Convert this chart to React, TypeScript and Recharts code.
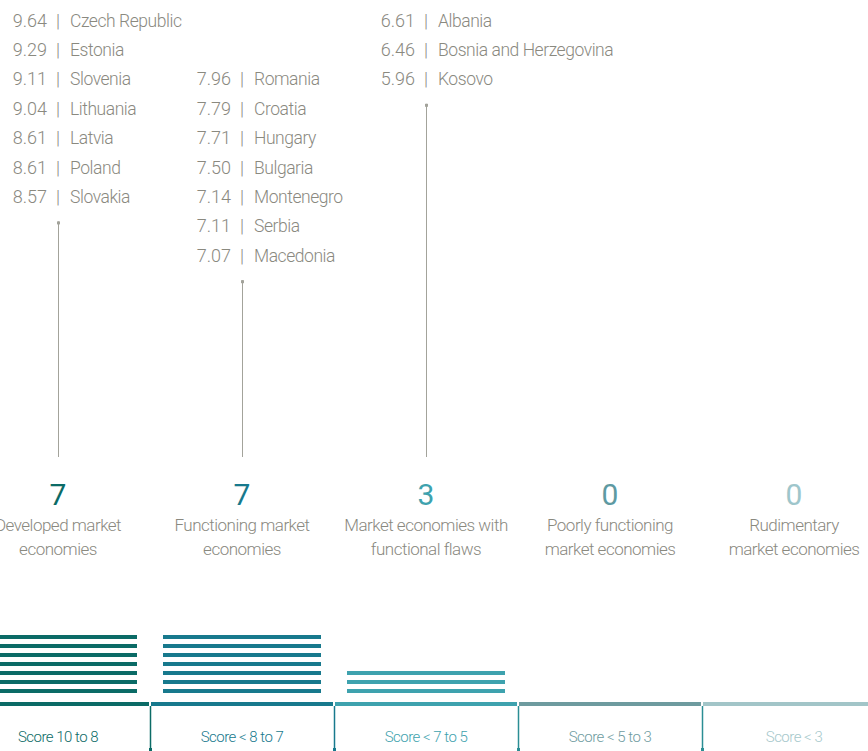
import React from 'react';
import { BarChart, Bar, XAxis, YAxis } from 'recharts';

// ---------- data ----------
const categoryKeys = ['developed', 'functioning', 'flawed', 'poor', 'rudimentary'];
const categoryLine1 = ['Developed market', 'Functioning market', 'Market economies with', 'Poorly functioning', 'Rudimentary'];
const categoryLine2 = ['economies', 'economies', 'functional flaws', 'market economies', 'market economies'];
const counts = [7, 7, 3, 0, 0];
const scoreRanges = ['Score 10 to 8', 'Score < 8 to 7', 'Score < 7 to 5', 'Score < 5 to 3', 'Score < 3'];

const developedScores = [9.64, 9.29, 9.11, 9.04, 8.61, 8.61, 8.57];
const developedCountries = ['Czech Republic', 'Estonia', 'Slovenia', 'Lithuania', 'Latvia', 'Poland', 'Slovakia'];
const functioningScores = [7.96, 7.79, 7.71, 7.5, 7.14, 7.11, 7.07];
const functioningCountries = ['Romania', 'Croatia', 'Hungary', 'Bulgaria', 'Montenegro', 'Serbia', 'Macedonia'];
const flawedScores = [6.61, 6.46, 5.96];
const flawedCountries = ['Albania', 'Bosnia and Herzegovina', 'Kosovo'];

const listScores = [developedScores, functioningScores, flawedScores, [], []];
const listCountries = [developedCountries, functioningCountries, flawedCountries, [], []];

const data = categoryKeys.map((key, i) => ({ key, count: counts[i] }));

// ---------- styles / layout ----------
const FONT = 'Roboto, "Noto Sans", sans-serif';
const TEXT_GRAY = '#8a897f';
const LEADER_GRAY = '#a3a39b';
const bandColors = ['#0b6b66', '#17798d', '#3ea2ae', '#6e9b9f', '#a2c5c8'];
const countColors = ['#0b6b66', '#17798d', '#3ea2ae', '#5e9aa2', '#9ec6cb'];
const labelColors = ['#0b6b66', '#17798d', '#3ea2ae', '#6e9ba0', '#a6c8cb'];
const tickColors = ['#0b6b66', '#17798d', '#2b8e94', '#2b8e94'];
const listStartRow = [0, 2, 0, 0, 0];

const CHART_W = 920;
const CHART_H = 751;
const BAND = CHART_W / categoryKeys.length;
const ROW0 = 26.5;
const ROW_H = 29.4;
const STRIPE = 4;

function StripeBar(props: any) {
  const { x, y, width, height, payload } = props;
  const n = payload.count;
  if (!n || !height) return null;
  const i = categoryKeys.indexOf(payload.key);
  const unit = height / n;
  const rects = [];
  for (let k = 0; k < n; k++) {
    rects.push(
      <rect key={k} x={x} y={y + k * unit} width={width} height={STRIPE} fill={bandColors[i]} />
    );
  }
  return <g>{rects}</g>;
}

function ColumnTick(props: any) {
  const { x, y, payload } = props;
  const i = categoryKeys.indexOf(payload.value);
  const left = x - BAND / 2;
  const right = x + BAND / 2;
  const scores = listScores[i];
  const countries = listCountries[i];
  const start = listStartRow[i];
  const isLast = i === categoryKeys.length - 1;
  const lastRowCenter = ROW0 + (start + scores.length - 1) * ROW_H - 6.5;
  return (
    <g fontFamily={FONT}>
      {/* country list */}
      {scores.map((s: number, r: number) => {
        const by = ROW0 + (start + r) * ROW_H;
        return (
          <g key={r} fontWeight={300} fill={TEXT_GRAY}>
            <text x={x - 11} y={by} textAnchor="end" fontSize={18}>{s.toFixed(2)}</text>
            <text x={x} y={by} textAnchor="middle" fontSize={18}>|</text>
            <text x={x + 12} y={by} textAnchor="start" fontSize={17.5} letterSpacing={-0.45}>{countries[r]}</text>
          </g>
        );
      })}
      {scores.length > 0 && (
        <g>
          <line x1={x + 0.5} x2={x + 0.5} y1={lastRowCenter + 25} y2={457} stroke={LEADER_GRAY} strokeWidth={1} />
          <rect x={x - 1} y={lastRowCenter + 25} width={3} height={3} fill={LEADER_GRAY} />
        </g>
      )}
      {/* count and category label */}
      <text x={x} y={505} textAnchor="middle" fontSize={30} fill={countColors[i]}>{counts[i]}</text>
      <text x={x} y={531} textAnchor="middle" fontSize={17} letterSpacing={-0.5} fontWeight={300} fill={TEXT_GRAY}>{categoryLine1[i]}</text>
      <text x={x} y={555} textAnchor="middle" fontSize={17} letterSpacing={-0.5} fontWeight={300} fill={TEXT_GRAY}>{categoryLine2[i]}</text>
      {/* axis segment */}
      <rect x={left + (i === 0 ? 0 : 1)} y={y + 4} width={BAND - (i === 0 ? 1 : 2)} height={4} fill={bandColors[i]} />
      {!isLast && (
        <g>
          <line x1={right + 0.5} x2={right + 0.5} y1={y + 8} y2={y + 51} stroke={tickColors[i]} strokeWidth={1.5} />
          <rect x={right - 1} y={y + 50} width={3} height={3} fill={tickColors[i]} />
        </g>
      )}
      <text x={x} y={y + 44} textAnchor="middle" fontSize={15} letterSpacing={-0.5} fontWeight={300} fill={labelColors[i]}>{scoreRanges[i]}</text>
    </g>
  );
}

export default function App() {
  return (
    <div style={{ position: 'absolute', left: 0, top: 0, width: 868, height: 751, overflow: 'hidden', background: '#fff' }}>
      <div style={{ marginLeft: -34 }}>
        <BarChart
          width={CHART_W}
          height={CHART_H}
          data={data}
          margin={{ top: 635, right: 0, bottom: 0, left: 0 }}
          barCategoryGap={13}
        >
          <YAxis hide domain={[0, 7]} />
          <XAxis
            dataKey="key"
            interval={0}
            height={53}
            tickSize={0}
            tickMargin={0}
            axisLine={false}
            tickLine={false}
            tick={<ColumnTick />}
          />
          <Bar dataKey="count" barSize={158} shape={<StripeBar />} isAnimationActive={false} />
        </BarChart>
      </div>
    </div>
  );
}
